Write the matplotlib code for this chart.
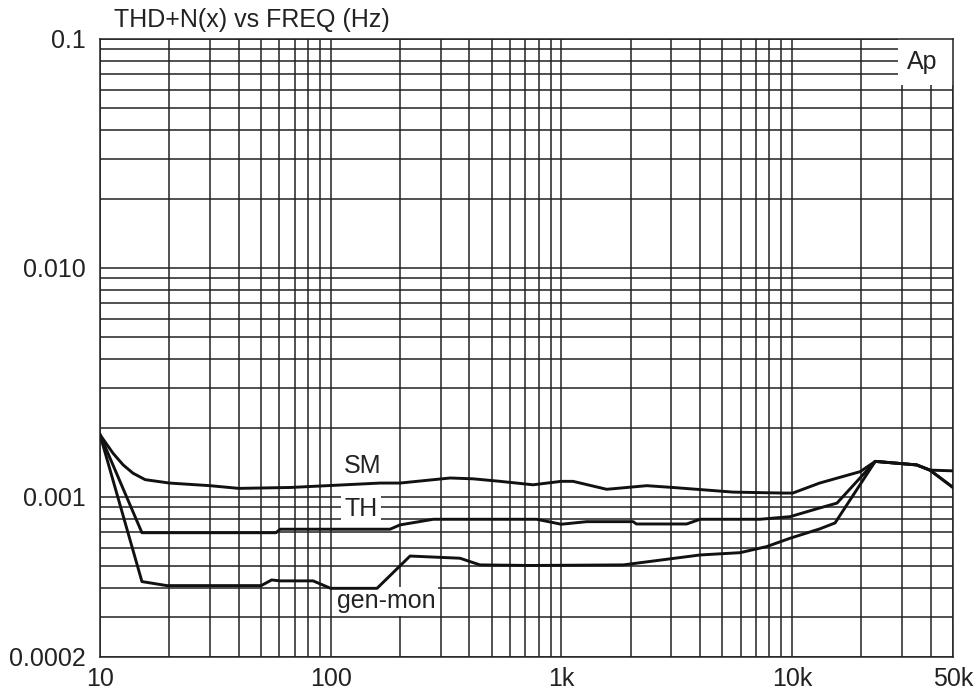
import matplotlib
matplotlib.use("Agg")
import matplotlib.pyplot as plt
from matplotlib.ticker import FixedLocator, LogLocator, NullFormatter
from matplotlib.patches import Rectangle

plt.rcParams['font.family'] = ['Liberation Sans', 'DejaVu Sans']

# THD+N readings
sm_freq = [10, 11.4, 12.6, 13.9, 15.7, 20, 30, 40, 67, 164, 200, 330, 415,
           543, 755, 1000, 1125, 1575, 2350, 3050, 5560, 9160, 10100, 13200,
           19800, 23000, 34800, 39700, 50000]
sm_thd = [0.00187, 0.00155, 0.00138, 0.00127, 0.00119, 0.00115, 0.00112,
          0.00109, 0.00110, 0.00115, 0.00115, 0.00121, 0.00120, 0.00117,
          0.00113, 0.00117, 0.00117, 0.00108, 0.00112, 0.00110, 0.00105,
          0.00104, 0.00104, 0.00115, 0.00129, 0.00143, 0.00138, 0.00131,
          0.00130]

th_freq = [10, 15.2, 58, 60.4, 181, 200, 279, 783, 1000, 1290, 2050, 2120,
           3500, 4000, 7280, 9820, 13200, 15700, 23000, 34800, 39700, 50000]
th_thd = [0.00187, 0.000698, 0.000698, 0.000723, 0.000723, 0.000755,
          0.000799, 0.000799, 0.000760, 0.000780, 0.000780, 0.000762,
          0.000762, 0.000799, 0.000799, 0.00082, 0.000895, 0.00094,
          0.00143, 0.00138, 0.00131, 0.00110]

gm_freq = [10, 15.2, 19.5, 50, 55.5, 60.4, 84, 100, 159, 221, 364, 444, 733,
           1860, 4000, 5960, 7780, 9820, 13200, 15400, 23000, 34800, 39700,
           50000]
gm_thd = [0.00187, 0.000427, 0.000410, 0.000410, 0.000434, 0.000430,
          0.000430, 0.000399, 0.000399, 0.000552, 0.000540, 0.000505,
          0.000502, 0.000505, 0.000558, 0.000571, 0.000607, 0.00066,
          0.000725, 0.00077, 0.00143, 0.00138, 0.00131, 0.00110]

x_ticks = [10, 100, 1000, 10000, 50000]
x_labels = ["10", "100", "1k", "10k", "50k"]
y_ticks = [0.0002, 0.001, 0.01, 0.1]
y_labels = ["0.0002", "0.001", "0.010", "0.1"]

fig = plt.figure(figsize=(9.74, 6.93), dpi=100)
ax = fig.add_axes([100/974, 1 - 657/693, 853/974, 618/693])

ax.set_xscale('log')
ax.set_yscale('log')
ax.set_xlim(10, 50000)
ax.set_ylim(0.0002, 0.1)

ax.xaxis.set_major_locator(FixedLocator(x_ticks))
ax.set_xticklabels(x_labels)
ax.yaxis.set_major_locator(FixedLocator(y_ticks))
ax.set_yticklabels(y_labels)
ax.xaxis.set_minor_locator(LogLocator(base=10, subs='all', numticks=100))
ax.yaxis.set_minor_locator(LogLocator(base=10, subs='all', numticks=100))
ax.xaxis.set_minor_formatter(NullFormatter())
ax.yaxis.set_minor_formatter(NullFormatter())
ax.tick_params(which='both', length=0, labelsize=18, colors='#222222')
ax.tick_params(axis='x', pad=7)
ax.tick_params(axis='y', pad=10)

ax.grid(True, which='both', color='#222222', linewidth=1.1)
for s in ax.spines.values():
    s.set_color('#222222')
    s.set_linewidth(1.1)

for f, v in [(sm_freq, sm_thd), (th_freq, th_thd), (gm_freq, gm_thd)]:
    ax.plot(f, v, color='#111111', linewidth=2.1, zorder=3)

box = dict(facecolor='white', edgecolor='none', boxstyle='square,pad=0.1')
ax.text(138, 0.001366, "SM", fontsize=18, ha='center', va='center',
        color='#222222', bbox=box, zorder=2.8)
ax.text(135.5, 0.000886, "TH", fontsize=18, ha='center', va='center',
        color='#222222', bbox=dict(facecolor='white', edgecolor='none',
                                   boxstyle='square,pad=0.12'), zorder=2.8)
ax.text(174, 0.000351, "gen-mon", fontsize=18, ha='center', va='center',
        color='#222222', bbox=box, zorder=2.8)

# "Ap" box in the top right corner
ax.add_patch(Rectangle((0.9355, 0.9256), 0.0645, 0.0744, transform=ax.transAxes,
                       facecolor='white', edgecolor='none', zorder=2))
ax.text(0.9637, 0.9628, "Ap", transform=ax.transAxes, fontsize=18,
        ha='center', va='center', color='#222222', zorder=4)

fig.text(114/974, 1 - 20/693, "THD+N(x) vs FREQ (Hz)", fontsize=18,
         ha='left', va='center', color='#222222')

fig.savefig("out.png", dpi=100)
